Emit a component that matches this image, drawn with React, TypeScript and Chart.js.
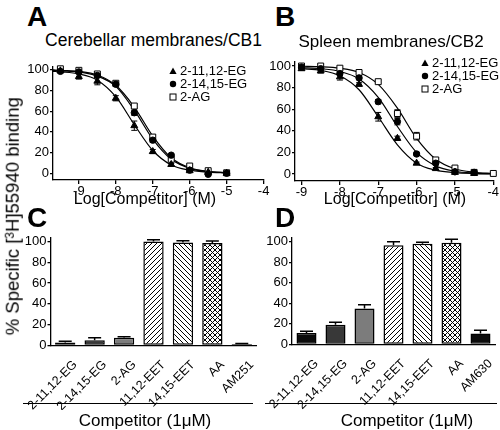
import React, { useEffect, useRef } from "react";
import { Chart, registerables } from "chart.js";

Chart.register(...registerables);

const FONT = "'Liberation Sans', Arial, Helvetica, sans-serif";
Chart.defaults.font.family = FONT;
Chart.defaults.color = "#000";

// ---------------- Panel A: Cerebellar membranes/CB1 ----------------
const doseA = [-9.5, -9, -8.5, -8, -7.5, -7, -6.5, -6, -5.5, -5];
const a_EG1112 = [99, 93.5, 89, 72.5, 46, 21, 8.5, 2.5, 1, 0];
const a_EG1112_err = [1.5, 2.5, 3.5, 2.5, 4.5, 2, 1, 1, 0.8, 0.8];
const a_EG1415 = [98.5, 98, 94.5, 86, 58.5, 32, 17.5, 3, -1, 0];
const a_EG1415_err = [1, 1, 2, 2, 2.5, 2, 1, 1, 1, 0.8];
const a_2AG = [101, 99.5, 96, 87, 65, 35, 13.5, 7, 2.5, 0.5];
const a_2AG_err = [1, 1, 1.5, 1.5, 1.5, 2, 1, 1, 1, 0.8];

const fitDoseA = [-9.7, -9.5, -9, -8.5, -8, -7.5, -7, -6.5, -6, -5.5, -5];
const fitA_EG1112 = [98.5, 98, 96, 90, 74, 47, 22, 8, 3, 1, 0.3];
const fitA_EG1415 = [99.5, 99, 98, 94, 84, 61, 33, 13.5, 4.8, 1.6, 0.5];
const fitA_2AG = [100, 99.5, 98.5, 95, 85, 64, 36, 15, 5.3, 1.8, 0.6];

// ---------------- Panel B: Spleen membranes/CB2 ----------------
const doseB = [-9, -8.5, -8, -7.5, -7, -6.5, -6, -5.5, -5, -4.5];
const b_EG1112 = [97.5, 95.5, 90, 83, 53, 33, 10, 5, 1.5, 0.5];
const b_EG1112_err = [1.5, 2, 3, 1.5, 4, 2, 1, 1, 1, 1];
const b_EG1415 = [99, 97.5, 93, 89, 67, 48.5, 18.5, 10, 2, 1.5];
const b_EG1415_err = [1, 1, 1.5, 1.5, 2, 3, 1.5, 1.5, 1, 1];
const doseB_2AG = [-9, -8.5, -8, -7.5, -7, -6.5, -6, -5.5, -5, -4.5, -4];
const b_2AG = [100, 100, 98, 94, 85.5, 56, 35, 13, 5.5, 1.5, 0.5];
const b_2AG_err = [1, 1.5, 1, 1, 1.5, 3.5, 3.5, 1.5, 1, 1, 0.8];

const fitDoseB = [-9, -8.5, -8, -7.5, -7, -6.5, -6, -5.5, -5, -4.5, -4];
const fitB_EG1112 = [97.5, 96, 91, 78, 53, 27, 10, 3.5, 1.2, 0.4, 0.1];
const fitB_EG1415 = [98.5, 97.5, 95, 88, 71, 44, 20, 7.5, 2.5, 0.8, 0.3];
const fitB_2AG = [99.8, 99.4, 98, 94, 83, 61, 33, 13.7, 4.8, 1.6, 0.5];

// ---------------- Panels C / D: single concentration (1 µM) ----------------
const barLabelsC = ["2-11,12-EG", "2-14,15-EG", "2-AG", "11,12-EET", "14,15-EET", "AA", "AM251"];
const barValuesC = [3, 5, 7.5, 100, 99, 98.5, 1.5];
const barErrC = [1.2, 2.5, 1, 1.6, 1.8, 2, 0.5];

const barLabelsD = ["2-11,12-EG", "2-14,15-EG", "2-AG", "11,12-EET", "14,15-EET", "AA", "AM630"];
const barValuesD = [11, 19, 35, 96.5, 98, 99, 10.5];
const barErrD = [1.8, 2.4, 3.5, 3.5, 1.5, 3.5, 3.2];

const yTicks = [0, 20, 40, 60, 80, 100];
const xTicksLog = [-9, -8, -7, -6, -5, -4];

// ------------------------------------------------------------------
function makeHatch(kind: "fwd" | "back" | "cross") {
  const s = 5;
  const c = document.createElement("canvas");
  c.width = s;
  c.height = s;
  const g = c.getContext("2d")!;
  g.fillStyle = "#fff";
  g.fillRect(0, 0, s, s);
  g.strokeStyle = "#000";
  g.lineWidth = 1;
  const fwd = () => {
    g.beginPath();
    g.moveTo(-1, s + 1); g.lineTo(s + 1, -1);
    g.moveTo(-1, 1); g.lineTo(1, -1);
    g.moveTo(s - 1, s + 1); g.lineTo(s + 1, s - 1);
    g.stroke();
  };
  const back = () => {
    g.beginPath();
    g.moveTo(-1, -1); g.lineTo(s + 1, s + 1);
    g.moveTo(s - 1, -1); g.lineTo(s + 1, 1);
    g.moveTo(-1, s - 1); g.lineTo(1, s + 1);
    g.stroke();
  };
  if (kind === "fwd") fwd();
  else if (kind === "back") back();
  else { fwd(); back(); }
  return g.createPattern(c, "repeat");
}

type Series = { xs: number[]; ys: number[]; errs: number[]; style: string; radius: number; fill: string };

function doseConfig(p: any) {
  const series: Series[] = p.series;
  const errPlugin = {
    id: "scatterErr",
    beforeDatasetsDraw(chart: any) {
      const { ctx, scales } = chart;
      ctx.save();
      ctx.strokeStyle = "#000";
      ctx.lineWidth = 1;
      series.forEach((s) =>
        s.xs.forEach((x, i) => {
          const e = s.errs[i];
          const px = scales.x.getPixelForValue(x);
          const y1 = scales.y.getPixelForValue(s.ys[i] + e);
          const y2 = scales.y.getPixelForValue(s.ys[i] - e);
          ctx.beginPath();
          ctx.moveTo(px, y1); ctx.lineTo(px, y2);
          ctx.moveTo(px - 3, y1); ctx.lineTo(px + 3, y1);
          ctx.moveTo(px - 3, y2); ctx.lineTo(px + 3, y2);
          ctx.stroke();
        })
      );
      ctx.restore();
    },
  };
  const pointSets = series.map((s) => ({
    data: s.xs.map((x, i) => ({ x, y: s.ys[i] })),
    showLine: false,
    pointStyle: s.style,
    pointRadius: s.radius,
    pointBackgroundColor: s.fill,
    pointBorderColor: "#000",
    pointBorderWidth: 1,
    clip: false,
  }));
  const fitSets = p.fits.map((f: any) => ({
    data: f.xs.map((x: number, i: number) => ({ x, y: f.ys[i] })),
    showLine: true,
    pointRadius: 0,
    borderColor: "#000",
    borderWidth: 1.2,
    cubicInterpolationMode: "monotone",
    fill: false,
  }));
  return {
    type: "line",
    data: { datasets: [...pointSets, ...fitSets] },
    options: {
      responsive: false,
      animation: false,
      devicePixelRatio: 1,
      events: [],
      layout: { padding: p.padding },
      plugins: { legend: { display: false }, tooltip: { enabled: false } },
      scales: {
        x: {
          type: "linear",
          min: p.xMin,
          max: p.xMax,
          afterBuildTicks: (s: any) => { s.ticks = p.xTicks.map((v: number) => ({ value: v })); },
          afterFit: (s: any) => { s.height = p.xHeight; s.paddingLeft = 0; s.paddingRight = 0; },
          grid: { display: true, drawOnChartArea: false, drawTicks: true, tickLength: 4, color: "#000", lineWidth: 1.3 },
          border: { display: true, color: "#000", width: 1.3 },
          ticks: { font: { size: 13 }, color: "#000", padding: 0, maxRotation: 0, autoSkip: false, callback: (v: any) => String(v) },
        },
        y: {
          type: "linear",
          min: p.yMin,
          max: p.yMax,
          afterBuildTicks: (s: any) => { s.ticks = yTicks.map((v) => ({ value: v })); },
          afterFit: (s: any) => { s.width = p.yWidth; s.paddingTop = 0; s.paddingBottom = 0; },
          grid: { display: true, drawOnChartArea: false, drawTicks: true, tickLength: 3, color: "#000", lineWidth: 1.3 },
          border: { display: true, color: "#000", width: 1.3 },
          ticks: { font: { size: 13 }, color: "#000", padding: 1, autoSkip: false, callback: (v: any) => String(v) },
        },
      },
    },
    plugins: [errPlugin],
  };
}

function barConfig(p: any) {
  const values: number[] = p.values;
  const errs: number[] = p.errs;
  const errPlugin = {
    id: "barErr",
    afterDatasetsDraw(chart: any) {
      const { ctx, scales } = chart;
      ctx.save();
      ctx.strokeStyle = "#000";
      ctx.lineWidth = 1.5;
      values.forEach((v, i) => {
        const px = scales.x.getPixelForValue(i);
        const y0 = scales.y.getPixelForValue(v);
        const y1 = scales.y.getPixelForValue(v + errs[i]);
        ctx.beginPath();
        ctx.moveTo(px, y0); ctx.lineTo(px, y1);
        ctx.moveTo(px - 6.5, y1); ctx.lineTo(px + 6.5, y1);
        ctx.stroke();
      });
      ctx.restore();
    },
  };
  const fills = ["#0b0b0b", "#383838", "#7c7c7c", makeHatch("fwd"), makeHatch("back"), makeHatch("cross"), "#0b0b0b"];
  return {
    type: "bar",
    data: {
      labels: p.labels,
      datasets: [
        {
          data: values,
          backgroundColor: fills,
          borderColor: "#000",
          borderWidth: 1.5,
          borderSkipped: false,
          barPercentage: 0.69,
          categoryPercentage: 1,
        },
      ],
    },
    options: {
      responsive: false,
      animation: false,
      devicePixelRatio: 1,
      events: [],
      layout: { padding: p.padding },
      plugins: { legend: { display: false }, tooltip: { enabled: false } },
      scales: {
        x: {
          type: "category",
          afterFit: (s: any) => { s.height = p.xHeight; s.paddingLeft = 0; s.paddingRight = 0; },
          grid: { display: false },
          border: { display: true, color: "#000", width: 1.3 },
          ticks: { font: { size: 12.5 }, color: "#000", padding: 4, minRotation: 45, maxRotation: 45, autoSkip: false, labelOffset: 10 },
        },
        y: {
          type: "linear",
          min: 0,
          max: 104,
          afterBuildTicks: (s: any) => { s.ticks = yTicks.map((v) => ({ value: v })); },
          afterFit: (s: any) => { s.width = p.yWidth; s.paddingTop = 0; s.paddingBottom = 0; },
          grid: { display: true, drawOnChartArea: false, drawTicks: true, tickLength: 3, color: "#000", lineWidth: 1.3 },
          border: { display: true, color: "#000", width: 1.3 },
          ticks: { font: { size: 13 }, color: "#000", padding: 1, autoSkip: false, callback: (v: any) => String(v) },
        },
      },
    },
    plugins: [errPlugin],
  };
}

function ChartBox({ left, top, width, height, build }: any) {
  const ref = useRef<HTMLCanvasElement>(null);
  useEffect(() => {
    const chart = new Chart(ref.current as HTMLCanvasElement, build());
    return () => chart.destroy();
  }, []);
  return (
    <canvas
      ref={ref}
      width={width}
      height={height}
      style={{ position: "absolute", left, top, width, height, display: "block" }}
    />
  );
}

function Txt({ left, top, size, bold, children, width, align, style }: any) {
  return (
    <div
      style={{
        position: "absolute",
        left,
        top,
        width,
        textAlign: align || "left",
        fontFamily: FONT,
        fontSize: size,
        fontWeight: bold ? "bold" : "normal",
        lineHeight: 1,
        whiteSpace: "nowrap",
        color: "#000",
        ...style,
      }}
    >
      {children}
    </div>
  );
}

function Marker({ kind }: { kind: string }) {
  return (
    <svg width={8} height={8} style={{ display: "block" }}>
      {kind === "tri" && <polygon points="4,0.5 7.6,7 0.4,7" fill="#000" />}
      {kind === "dot" && <circle cx={4} cy={4} r={3.2} fill="#000" />}
      {kind === "sq" && <rect x={1} y={1} width={6} height={6} fill="#fff" stroke="#000" strokeWidth={1} />}
    </svg>
  );
}

const legendNames = ["2-11,12-EG", "2-14,15-EG", "2-AG"];
const legendMarks = ["tri", "dot", "sq"];

function Legend({ left, rows }: { left: number; rows: number[] }) {
  return (
    <>
      {legendNames.map((n, i) => (
        <div
          key={n}
          style={{
            position: "absolute",
            left,
            top: rows[i] - 7,
            height: 14,
            display: "flex",
            alignItems: "center",
            gap: 3,
            fontFamily: FONT,
            fontSize: 13,
            lineHeight: "14px",
            whiteSpace: "nowrap",
          }}
        >
          <Marker kind={legendMarks[i]} />
          <span>{n}</span>
        </div>
      ))}
    </>
  );
}

export default function App() {
  return (
    <div style={{ position: "absolute", left: 0, top: 0, width: 500, height: 430, background: "#fff", overflow: "hidden" }}>
      <ChartBox
        left={0}
        top={55}
        width={270}
        height={160}
        build={() =>
          doseConfig({
            series: [
              { xs: doseA, ys: a_EG1112, errs: a_EG1112_err, style: "triangle", radius: 4, fill: "#000" },
              { xs: doseA, ys: a_EG1415, errs: a_EG1415_err, style: "circle", radius: 3.2, fill: "#000" },
              { xs: doseA, ys: a_2AG, errs: a_2AG_err, style: "rect", radius: 4.2, fill: "#fff" },
            ],
            fits: [
              { xs: fitDoseA, ys: fitA_EG1112 },
              { xs: fitDoseA, ys: fitA_EG1415 },
              { xs: fitDoseA, ys: fitA_2AG },
            ],
            xMin: -9.7, xMax: -4, yMin: -6.5, yMax: 103,
            xTicks: xTicksLog,
            yWidth: 53, xHeight: 35,
            padding: { top: 11.7, right: 6.4, left: 0, bottom: 0 },
          })
        }
      />
      <ChartBox
        left={250}
        top={55}
        width={250}
        height={160}
        build={() =>
          doseConfig({
            series: [
              { xs: doseB, ys: b_EG1112, errs: b_EG1112_err, style: "triangle", radius: 4, fill: "#000" },
              { xs: doseB, ys: b_EG1415, errs: b_EG1415_err, style: "circle", radius: 3.2, fill: "#000" },
              { xs: doseB_2AG, ys: b_2AG, errs: b_2AG_err, style: "rect", radius: 4.2, fill: "#fff" },
            ],
            fits: [
              { xs: fitDoseB, ys: fitB_EG1112 },
              { xs: fitDoseB, ys: fitB_EG1415 },
              { xs: fitDoseB, ys: fitB_2AG },
            ],
            xMin: -9.17, xMax: -4, yMin: -6.5, yMax: 104,
            xTicks: xTicksLog,
            yWidth: 45, xHeight: 34,
            padding: { top: 6.7, right: 6.7, left: 0, bottom: 0 },
          })
        }
      />
      <ChartBox
        left={0}
        top={225}
        width={270}
        height={185}
        build={() =>
          barConfig({
            labels: barLabelsC, values: barValuesC, errs: barErrC,
            yWidth: 50.5, xHeight: 64.5,
            padding: { top: 12.3, right: 13.5, left: 0, bottom: 0 },
          })
        }
      />
      <ChartBox
        left={250}
        top={225}
        width={250}
        height={185}
        build={() =>
          barConfig({
            labels: barLabelsD, values: barValuesD, errs: barErrD,
            yWidth: 42, xHeight: 65.7,
            padding: { top: 12.6, right: 5, left: 0, bottom: 0 },
          })
        }
      />

      {/* panel letters */}
      <Txt left={27} top={3.3} size={28} bold>A</Txt>
      <Txt left={275} top={3.3} size={28} bold>B</Txt>
      <Txt left={27} top={204.3} size={28} bold>C</Txt>
      <Txt left={275} top={204.3} size={28} bold>D</Txt>

      {/* panel titles */}
      <Txt left={3.5} top={32.2} width={300} align="center" size={17.5}>Cerebellar membranes/CB1</Txt>
      <Txt left={241} top={32.6} width={300} align="center" size={17}>Spleen membranes/CB2</Txt>

      {/* legends */}
      <Legend left={169} rows={[70.5, 83.5, 97]} />
      <Legend left={421} rows={[62.5, 76, 89]} />

      {/* x titles of dose-response panels */}
      <Txt left={45} top={191} width={200} align="center" size={16}>Log[Competitor] (M)</Txt>
      <Txt left={295} top={191} width={200} align="center" size={16}>Log[Competitor] (M)</Txt>

      {/* shared y title */}
      <div
        style={{
          position: "absolute",
          left: 12.5 - 150,
          top: 216 - 9.25,
          width: 300,
          height: 18.5,
          transform: "rotate(-90deg)",
          transformOrigin: "50% 50%",
          textAlign: "center",
          fontFamily: FONT,
          fontSize: 18.5,
          lineHeight: "18.5px",
          whiteSpace: "nowrap",
          color: "#000",
        }}
      >
        % Specific [<sup style={{ fontSize: 12, lineHeight: 0, verticalAlign: "0.45em" }}>3</sup>H]55940 binding
      </div>

      {/* competitor lines and titles */}
      <div style={{ position: "absolute", left: 23, top: 403, width: 230, height: 1.3, background: "#000" }} />
      <div style={{ position: "absolute", left: 265, top: 403, width: 232, height: 1.3, background: "#000" }} />
      <Txt left={45} top={411.6} width={200} align="center" size={17}>Competitor (1μM)</Txt>
      <Txt left={307} top={411.6} width={200} align="center" size={17}>Competitor (1μM)</Txt>
    </div>
  );
}
